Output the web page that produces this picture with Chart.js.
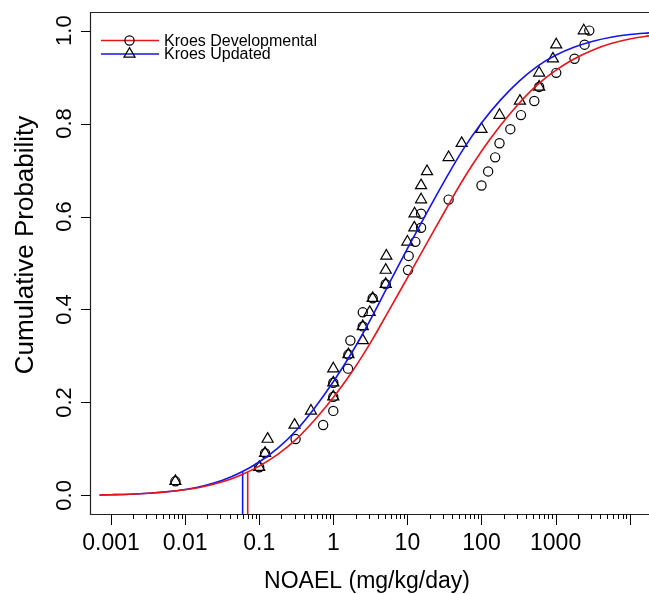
<!DOCTYPE html>
<html><head><meta charset="utf-8">
<script src="https://cdn.jsdelivr.net/npm/chart.js@4.4.1/dist/chart.umd.min.js"></script>
<style>html,body{margin:0;padding:0;background:#fff;overflow:hidden}</style>
</head><body>
<canvas id="c" width="649" height="594" style="display:block"></canvas>
<script>
// ---- tick labels ----
const xTickValues = [0.001, 0.01, 0.1, 1, 10, 100, 1000, 10000];
const xTickLabels = ["0.001", "0.01", "0.1", "1", "10", "100", "1000", ""];
const yTickValues = [0, 0.2, 0.4, 0.6, 0.8, 1.0];
const yTickLabels = ["0.0", "0.2", "0.4", "0.6", "0.8", "1.0"];
const seriesNames = ["Kroes Developmental", "Kroes Updated"];
const xTitle = "NOAEL (mg/kg/day)";
const yTitle = "Cumulative Probability";

// ---- empirical points (rank probabilities shared by both series) ----
const rankProb = [0.0303, 0.0606, 0.0909, 0.1212, 0.1515, 0.1818, 0.2121, 0.2424, 0.2727, 0.3030,
  0.3333, 0.3636, 0.3939, 0.4242, 0.4545, 0.4848, 0.5152, 0.5455, 0.5758, 0.6061,
  0.6364, 0.6667, 0.6970, 0.7273, 0.7576, 0.7879, 0.8182, 0.8485, 0.8788, 0.9091,
  0.9394, 0.9697, 1.0000];
const devNoael = [0.0074, 0.10, 0.12, 0.31, 0.73, 1.0, 1.0, 1.0, 1.58, 1.6,
  1.7, 2.5, 2.5, 3.4, 5.1, 10.2, 10.4, 12.8, 15.3, 15.3,
  36, 100, 123, 153, 175, 245, 341, 516, 600, 1020,
  1800, 2460, 2850];
const updNoael = [0.0074, 0.10, 0.12, 0.13, 0.30, 0.50, 1.0, 1.0, 1.0, 1.6,
  2.5, 2.5, 3.1, 3.4, 5.1, 5.1, 5.2, 10, 12.4, 12.5,
  15.3, 15.3, 18.4, 36, 54, 100, 175, 330, 600, 600,
  920, 1020, 2400];

// ---- fitted cumulative curves ----
const curveX = [0.0007, 0.001, 0.0018, 0.0032, 0.0056, 0.01, 0.018, 0.032, 0.056, 0.1,
  0.18, 0.32, 0.56, 1, 1.8, 3.2, 5.6, 10, 18, 32,
  56, 100, 180, 320, 560, 1000, 1800, 3200, 5600, 10000, 20000];
const devCurveY = [0.0010, 0.0015, 0.0026, 0.0045, 0.0075, 0.0121, 0.0191, 0.0293, 0.0436, 0.0631,
  0.0888, 0.1216, 0.1622, 0.2106, 0.2666, 0.3293, 0.3971, 0.4682, 0.5404, 0.6113,
  0.6786, 0.7405, 0.7956, 0.8431, 0.8826, 0.9146, 0.9395, 0.9584, 0.9721, 0.9819, 0.9896];
const updCurveY = [0.0009, 0.0014, 0.0025, 0.0045, 0.0077, 0.0128, 0.0208, 0.0324, 0.0491, 0.0719,
  0.1022, 0.1408, 0.1881, 0.2444, 0.3085, 0.3792, 0.4541, 0.5307, 0.6061, 0.6778,
  0.7434, 0.8013, 0.8504, 0.8908, 0.9226, 0.9469, 0.9647, 0.9772, 0.9858, 0.9915, 0.9955];

// ---- 5th percentile markers ----
const pct5Noael = [0.070, 0.0598];   // developmental, updated
const pct5Prob = [0.05, 0.05];

const colors = ["#e8141c", "#1414f0"];
const FONT = '"Liberation Sans", Arial, Helvetica, sans-serif';

const toXY = (xs, ys) => xs.map((v, i) => ({x: v, y: ys[i]}));

const datasets = [
  {label: seriesNames[0] + " fit", data: toXY(curveX, devCurveY), borderColor: colors[0], borderWidth: 1.6,
   pointRadius: 0, cubicInterpolationMode: 'monotone', showLine: true, fill: false},
  {label: seriesNames[1] + " fit", data: toXY(curveX, updCurveY), borderColor: colors[1], borderWidth: 1.6,
   pointRadius: 0, cubicInterpolationMode: 'monotone', showLine: true, fill: false},
  {label: seriesNames[0] + " 5%", data: [{x: pct5Noael[0], y: -0.04}, {x: pct5Noael[0], y: pct5Prob[0]}],
   borderColor: colors[0], borderWidth: 1.6, pointRadius: 0, showLine: true},
  {label: seriesNames[1] + " 5%", data: [{x: pct5Noael[1], y: -0.04}, {x: pct5Noael[1], y: pct5Prob[1]}],
   borderColor: colors[1], borderWidth: 1.6, pointRadius: 0, showLine: true},
  {label: seriesNames[0], data: toXY(devNoael, rankProb), showLine: false, pointStyle: 'circle',
   pointRadius: 4.6, pointBorderColor: '#000', pointBackgroundColor: 'rgba(0,0,0,0)', pointBorderWidth: 1.2},
  {label: seriesNames[1], data: toXY(updNoael, rankProb), showLine: false, pointStyle: 'triangle',
   pointRadius: 6.4, pointBorderColor: '#000', pointBackgroundColor: 'rgba(0,0,0,0)', pointBorderWidth: 1.2}
];

const rAxes = {
  id: 'rAxes',
  afterDraw(chart) {
    const {ctx, chartArea: a, scales: {x, y}} = chart;
    ctx.save();
    ctx.strokeStyle = '#222';
    ctx.lineWidth = 1.2;
    ctx.beginPath();
    ctx.moveTo(a.right + 5, a.top + 0.5);
    ctx.lineTo(a.left + 0.5, a.top + 0.5);
    ctx.lineTo(a.left + 0.5, a.bottom + 0.5);
    ctx.lineTo(a.right + 5, a.bottom + 0.5);
    ctx.stroke();

    ctx.strokeStyle = '#000';
    ctx.lineWidth = 1;
    ctx.beginPath();
    xTickValues.forEach((d, i) => {
      const px = Math.round(x.getPixelForValue(d)) + 0.5;
      ctx.moveTo(px, a.bottom); ctx.lineTo(px, a.bottom + 11);
      if (i < xTickValues.length - 1) {
        for (let m = 2; m <= 9; m++) {
          const pm = Math.round(x.getPixelForValue(d * m)) + 0.5;
          ctx.moveTo(pm, a.bottom); ctx.lineTo(pm, a.bottom + 5);
        }
      }
    });
    yTickValues.forEach(v => {
      const py = Math.round(y.getPixelForValue(v)) + 0.5;
      ctx.moveTo(a.left, py); ctx.lineTo(a.left - 9, py);
    });
    ctx.stroke();

    ctx.fillStyle = '#000';
    ctx.textAlign = 'center';
    ctx.textBaseline = 'alphabetic';
    ctx.font = '23px ' + FONT;
    xTickValues.forEach((d, i) => {
      ctx.fillText(xTickLabels[i], x.getPixelForValue(d), 550);
    });
    ctx.font = '22px ' + FONT;
    yTickValues.forEach((v, i) => {
      ctx.save();
      ctx.translate(71, y.getPixelForValue(v));
      ctx.rotate(-Math.PI / 2);
      ctx.fillText(yTickLabels[i], 0, 0);
      ctx.restore();
    });
    ctx.font = '23px ' + FONT;
    ctx.fillText(xTitle, 367, 588);
    ctx.save();
    ctx.font = '26px ' + FONT;
    ctx.translate(33, 245);
    ctx.rotate(-Math.PI / 2);
    ctx.fillText(yTitle, 0, 0);
    ctx.restore();

    // legend
    const ly = [40.5, 54];
    ctx.font = '16px ' + FONT;
    ctx.textAlign = 'left';
    ctx.textBaseline = 'middle';
    for (let k = 0; k < 2; k++) {
      ctx.strokeStyle = colors[k];
      ctx.lineWidth = 1.6;
      ctx.beginPath();
      ctx.moveTo(101, ly[k]); ctx.lineTo(159, ly[k]);
      ctx.stroke();
      ctx.strokeStyle = '#000';
      ctx.lineWidth = 1.2;
      ctx.beginPath();
      if (k === 0) {
        ctx.arc(129.5, ly[k], 4.6, 0, Math.PI * 2);
      } else {
        const r = 6.4;
        ctx.moveTo(129.5, ly[k] - r);
        ctx.lineTo(129.5 + r * Math.sin(2 * Math.PI / 3), ly[k] + r / 2);
        ctx.lineTo(129.5 - r * Math.sin(2 * Math.PI / 3), ly[k] + r / 2);
        ctx.closePath();
      }
      ctx.stroke();
      ctx.fillStyle = '#000';
      ctx.fillText(seriesNames[k], 164, ly[k] + 1);
    }
    ctx.restore();
  }
};

new Chart(document.getElementById('c'), {
  type: 'scatter',
  data: {datasets},
  options: {
    responsive: false,
    animation: false,
    layout: {autoPadding: false, padding: {left: 90, top: 12, right: 0, bottom: 80}},
    plugins: {legend: {display: false}, tooltip: {enabled: false}},
    scales: {
      x: {type: 'logarithmic', min: 0.000521, max: 18220, display: false},
      y: {type: 'linear', min: -0.04, max: 1.04, display: false}
    }
  },
  plugins: [rAxes]
});
</script>
</body></html>
